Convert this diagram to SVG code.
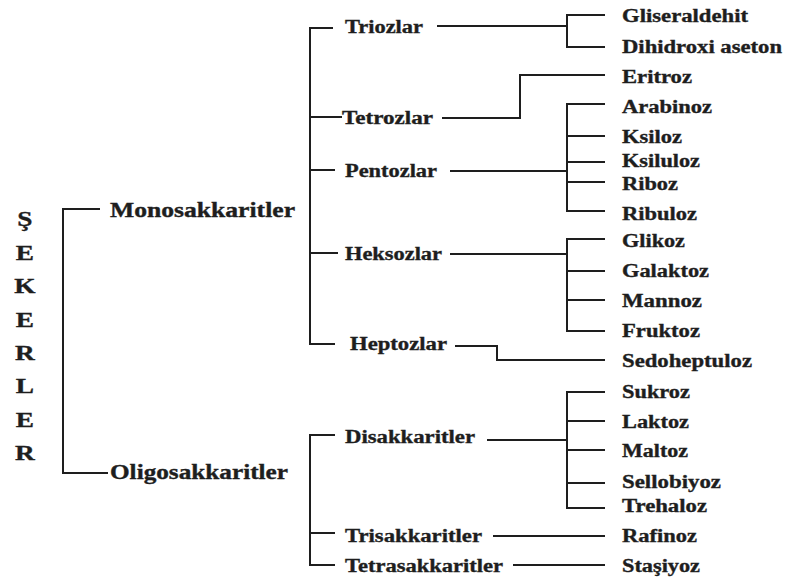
<svg xmlns="http://www.w3.org/2000/svg" width="785" height="581" viewBox="0 0 785 581">
  <style>
    .ln { fill: none; stroke: #1e1e1e; stroke-width: 2; }
    text { font-family: "Liberation Serif", "Times New Roman", serif; font-weight: bold; fill: #1e1e1e; stroke: #1e1e1e; stroke-width: 0.35; }
    .root { font-size: 21px; text-anchor: middle; }
    .l1 { font-size: 20px; }
    .l2, .l3 { font-size: 18px; }
  </style>
  <rect width="785" height="581" fill="#ffffff"/>

  <!-- connectors -->
  <g id="connectors">
    <!-- root bracket -->
    <path class="ln" d="M100,209 H63 V473 H108"/>
    <!-- monosaccharide spine -->
    <path class="ln" d="M333,28 H310 V344 H335"/>
    <path class="ln" d="M310,117 H342"/>
    <path class="ln" d="M310,170 H335"/>
    <path class="ln" d="M310,253 H338"/>
    <!-- trioses -->
    <path class="ln" d="M437,26 H567"/>
    <path class="ln" d="M605,15 H567 V47 H605"/>
    <!-- tetroses -->
    <path class="ln" d="M442,118 H520 V75 H605"/>
    <!-- pentoses -->
    <path class="ln" d="M450,171 H567"/>
    <path class="ln" d="M605,104 H567 V211 H605"/>
    <path class="ln" d="M567,136 H605 M567,162 H605 M567,182 H605"/>
    <!-- hexoses -->
    <path class="ln" d="M450,254 H567"/>
    <path class="ln" d="M605,239 H567 V331 H605"/>
    <path class="ln" d="M567,271 H605 M567,300 H605"/>
    <!-- heptoses -->
    <path class="ln" d="M455,346 H497 V360 H605"/>
    <!-- oligosaccharide spine -->
    <path class="ln" d="M335,435 H310 V565 H335"/>
    <path class="ln" d="M310,533 H335"/>
    <!-- disaccharides -->
    <path class="ln" d="M487,440 H567"/>
    <path class="ln" d="M605,392 H567 V508 H605"/>
    <path class="ln" d="M567,421 H605 M567,450 H605 M567,483 H605"/>
    <!-- tri- and tetrasaccharides -->
    <path class="ln" d="M493,536 H605"/>
    <path class="ln" d="M513,565 H605"/>
  </g>

  <!-- root -->
  <g id="sekerler" transform="scale(1.3,1)">
    <text class="root" x="19.2" y="226">Ş</text>
    <text class="root" x="19.2" y="260">E</text>
    <text class="root" x="19.2" y="293">K</text>
    <text class="root" x="19.2" y="327">E</text>
    <text class="root" x="19.2" y="360">R</text>
    <text class="root" x="19.2" y="393">L</text>
    <text class="root" x="19.2" y="427">E</text>
    <text class="root" x="19.2" y="460">R</text>
  </g>

  <!-- first level -->
  <g id="monosakkaritler"><text class="l1" x="110" y="217" textLength="185" lengthAdjust="spacingAndGlyphs">Monosakkaritler</text></g>
  <g id="oligosakkaritler"><text class="l1" x="110" y="479" textLength="178" lengthAdjust="spacingAndGlyphs">Oligosakkaritler</text></g>

  <!-- second level -->
  <g id="triozlar"><text class="l2" x="345" y="33" textLength="78" lengthAdjust="spacingAndGlyphs">Triozlar</text></g>
  <g id="tetrozlar"><text class="l2" x="342" y="124" textLength="91" lengthAdjust="spacingAndGlyphs">Tetrozlar</text></g>
  <g id="pentozlar"><text class="l2" x="345" y="177" textLength="92" lengthAdjust="spacingAndGlyphs">Pentozlar</text></g>
  <g id="heksozlar"><text class="l2" x="345" y="260" textLength="97" lengthAdjust="spacingAndGlyphs">Heksozlar</text></g>
  <g id="heptozlar"><text class="l2" x="350" y="350" textLength="97" lengthAdjust="spacingAndGlyphs">Heptozlar</text></g>
  <g id="disakkaritler"><text class="l2" x="345" y="443" textLength="130" lengthAdjust="spacingAndGlyphs">Disakkaritler</text></g>
  <g id="trisakkaritler"><text class="l2" x="345" y="542" textLength="137" lengthAdjust="spacingAndGlyphs">Trisakkaritler</text></g>
  <g id="tetrasakkaritler"><text class="l2" x="345" y="572" textLength="158" lengthAdjust="spacingAndGlyphs">Tetrasakkaritler</text></g>

  <!-- leaves -->
  <g id="gliseraldehit"><text class="l3" x="622" y="22" textLength="126" lengthAdjust="spacingAndGlyphs">Gliseraldehit</text></g>
  <g id="dihidroxi-aseton"><text class="l3" x="622" y="53" textLength="160" lengthAdjust="spacingAndGlyphs">Dihidroxi aseton</text></g>
  <g id="eritroz"><text class="l3" x="622" y="83" textLength="70" lengthAdjust="spacingAndGlyphs">Eritroz</text></g>
  <g id="arabinoz"><text class="l3" x="622" y="113" textLength="90" lengthAdjust="spacingAndGlyphs">Arabinoz</text></g>
  <g id="ksiloz"><text class="l3" x="622" y="143" textLength="60" lengthAdjust="spacingAndGlyphs">Ksiloz</text></g>
  <g id="ksiluloz"><text class="l3" x="622" y="167" textLength="78" lengthAdjust="spacingAndGlyphs">Ksiluloz</text></g>
  <g id="riboz"><text class="l3" x="622" y="190" textLength="56" lengthAdjust="spacingAndGlyphs">Riboz</text></g>
  <g id="ribuloz"><text class="l3" x="622" y="220" textLength="75" lengthAdjust="spacingAndGlyphs">Ribuloz</text></g>
  <g id="glikoz"><text class="l3" x="622" y="247" textLength="63" lengthAdjust="spacingAndGlyphs">Glikoz</text></g>
  <g id="galaktoz"><text class="l3" x="622" y="277" textLength="87" lengthAdjust="spacingAndGlyphs">Galaktoz</text></g>
  <g id="mannoz"><text class="l3" x="622" y="307" textLength="80" lengthAdjust="spacingAndGlyphs">Mannoz</text></g>
  <g id="fruktoz"><text class="l3" x="622" y="337" textLength="78" lengthAdjust="spacingAndGlyphs">Fruktoz</text></g>
  <g id="sedoheptuloz"><text class="l3" x="622" y="367" textLength="130" lengthAdjust="spacingAndGlyphs">Sedoheptuloz</text></g>
  <g id="sukroz"><text class="l3" x="622" y="398" textLength="68" lengthAdjust="spacingAndGlyphs">Sukroz</text></g>
  <g id="laktoz"><text class="l3" x="622" y="428" textLength="67" lengthAdjust="spacingAndGlyphs">Laktoz</text></g>
  <g id="maltoz"><text class="l3" x="622" y="457" textLength="66" lengthAdjust="spacingAndGlyphs">Maltoz</text></g>
  <g id="sellobiyoz"><text class="l3" x="622" y="488" textLength="99" lengthAdjust="spacingAndGlyphs">Sellobiyoz</text></g>
  <g id="trehaloz"><text class="l3" x="622" y="512" textLength="85" lengthAdjust="spacingAndGlyphs">Trehaloz</text></g>
  <g id="rafinoz"><text class="l3" x="622" y="542" textLength="75" lengthAdjust="spacingAndGlyphs">Rafinoz</text></g>
  <g id="stasiyoz"><text class="l3" x="622" y="572" textLength="78" lengthAdjust="spacingAndGlyphs">Staşiyoz</text></g>
</svg>
